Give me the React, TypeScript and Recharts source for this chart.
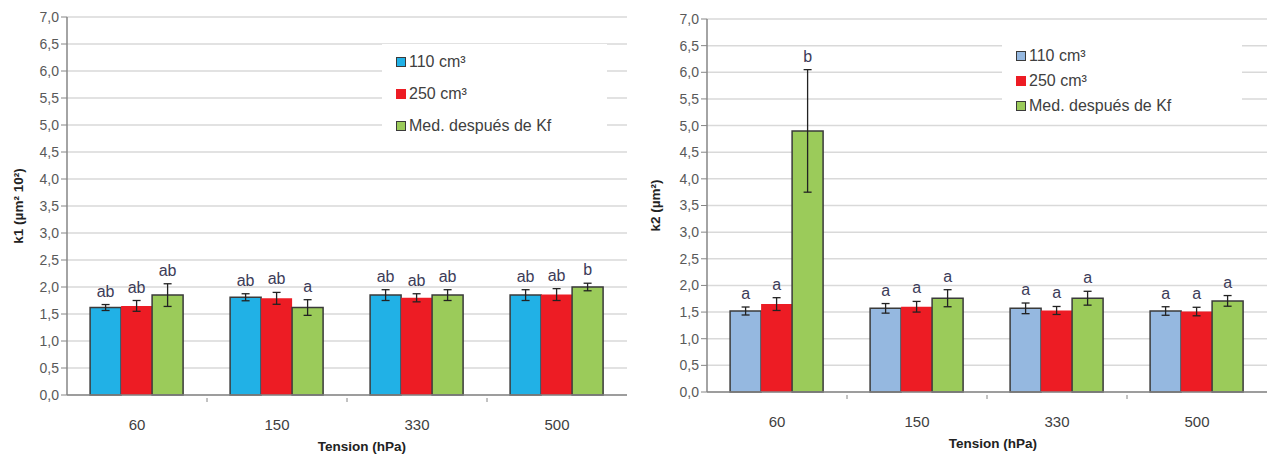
import React from 'react';
import {
  BarChart,
  Bar,
  XAxis,
  YAxis,
  CartesianGrid,
  ErrorBar,
  LabelList,
  Legend,
  Label,
} from 'recharts';

const tensions = ['60', '150', '330', '500'];
const seriesNames = ['110 cm³', '250 cm³', 'Med. después de Kf'];
const yTicks = [0, 0.5, 1, 1.5, 2, 2.5, 3, 3.5, 4, 4.5, 5, 5.5, 6, 6.5, 7];

// k1 (left panel)
const k1Vol110 = [1.62, 1.81, 1.85, 1.85];
const k1Vol110Err = [0.055, 0.065, 0.1, 0.1];
const k1Vol110Sig = ['ab', 'ab', 'ab', 'ab'];
const k1Vol250 = [1.65, 1.79, 1.8, 1.86];
const k1Vol250Err = [0.1, 0.11, 0.075, 0.11];
const k1Vol250Sig = ['ab', 'ab', 'ab', 'ab'];
const k1Kf = [1.85, 1.62, 1.85, 2.0];
const k1KfErr = [0.21, 0.145, 0.1, 0.07];
const k1KfSig = ['ab', 'a', 'ab', 'b'];

// k2 (right panel)
const k2Vol110 = [1.52, 1.57, 1.57, 1.52];
const k2Vol110Err = [0.075, 0.09, 0.1, 0.08];
const k2Vol110Sig = ['a', 'a', 'a', 'a'];
const k2Vol250 = [1.65, 1.6, 1.53, 1.51];
const k2Vol250Err = [0.12, 0.1, 0.075, 0.08];
const k2Vol250Sig = ['a', 'a', 'a', 'a'];
const k2Kf = [4.9, 1.76, 1.76, 1.71];
const k2KfErr = [1.15, 0.16, 0.13, 0.1];
const k2KfSig = ['b', 'a', 'a', 'a'];

const FONT = '"Liberation Sans", Arial, sans-serif';
const TEXT = '#404040';
const OUTLINE = '#3a3a3a';

const fmt = (v: number) => v.toFixed(1).replace('.', ',');

function buildRows(vals: number[][], errs: number[][], sigs: string[][]) {
  return tensions.map((t, i) => ({
    t,
    s0: vals[0][i],
    e0: errs[0][i],
    g0: sigs[0][i],
    s1: vals[1][i],
    e1: errs[1][i],
    g1: sigs[1][i],
    s2: vals[2][i],
    e2: errs[2][i],
    g2: sigs[2][i],
  }));
}

const k1Rows = buildRows(
  [k1Vol110, k1Vol250, k1Kf],
  [k1Vol110Err, k1Vol250Err, k1KfErr],
  [k1Vol110Sig, k1Vol250Sig, k1KfSig]
);
const k2Rows = buildRows(
  [k2Vol110, k2Vol250, k2Kf],
  [k2Vol110Err, k2Vol250Err, k2KfErr],
  [k2Vol110Sig, k2Vol250Sig, k2KfSig]
);

// letter above the error bar: pixel size of the error comes from bar height / value
function sigLabel(rows: any[], errKey: string, sigKey: string) {
  return (props: any) => {
    const { x, y, width, height, index } = props;
    const row = rows[index];
    const val = row[errKey.replace('e', 's')];
    const pxPer = height / val;
    const top = y - row[errKey] * pxPer;
    return (
      <text
        x={x + width / 2}
        y={top - 8}
        textAnchor="middle"
        fontFamily={FONT}
        fontSize={16}
        fill="#3c3c58"
      >
        {row[sigKey]}
      </text>
    );
  };
}

function XTick(props: any) {
  const { x, y, payload, index, band } = props;
  return (
    <g>
      {index > 0 && (
        <line x1={x - band / 2} x2={x - band / 2} y1={y - 5} y2={y - 1} stroke="#868686" />
      )}
      <text x={x} y={y + 27} textAnchor="middle" fontFamily={FONT} fontSize={15} fill={TEXT}>
        {payload.value}
      </text>
    </g>
  );
}

function LegendBox(props: { colors: string[]; gap: number; pad: number }) {
  const { colors, gap, pad } = props;
  return (
    <div style={{ background: '#fff', padding: `${pad}px 14px`, fontFamily: FONT, textAlign: 'left' }}>
      {seriesNames.map((n, i) => (
        <div
          key={n}
          style={{ display: 'flex', alignItems: 'center', height: gap, fontSize: 16, color: TEXT }}
        >
          <span
            style={{
              display: 'inline-block',
              width: 8,
              height: 8,
              marginRight: 3,
              background: colors[i],
              border: i === 1 ? `1px solid ${colors[i]}` : `1px solid ${OUTLINE}`,
            }}
          />
          {n}
        </div>
      ))}
    </div>
  );
}

interface PanelProps {
  rows: any[];
  colors: string[];
  yLabel: string;
  width: number;
  top: number;
  bottom: number;
  right: number;
  yLabelX: number;
  titleDx: number;
  legendPos: { left: number; top: number; width: number };
  legendGap: number;
  legendPad: number;
}

function Panel(p: PanelProps) {
  const plotW = p.width - 67 - p.right;
  const band = plotW / tensions.length;
  return (
    <BarChart
      width={p.width}
      height={456}
      data={p.rows}
      margin={{ top: p.top, right: p.right, bottom: 0, left: 27 }}
      barCategoryGap="16.5%"
      barGap={0}
    >
      <CartesianGrid vertical={false} stroke="#d9d9d9" strokeWidth={1.5} />
      <XAxis
        dataKey="t"
        height={456 - p.bottom}
        axisLine={{ stroke: '#868686', strokeWidth: 1.5 }}
        tickLine={false}
        interval={0}
        tick={<XTick band={band} />}
      >
        <Label
          value="Tension (hPa)"
          position="insideBottom"
          offset={456 - p.bottom - 56}
          dx={p.titleDx}
          style={{ fontFamily: FONT, fontSize: 13.5, fontWeight: 'bold', fill: '#222' }}
        />
      </XAxis>
      <YAxis
        width={40}
        domain={[0, 7]}
        ticks={yTicks}
        interval={0}
        tickFormatter={fmt}
        axisLine={{ stroke: '#868686', strokeWidth: 1.5 }}
        tickLine={{ stroke: '#868686' }}
        tickSize={6}
        tick={{ fontFamily: FONT, fontSize: 14, fill: '#595959' }}
      >
        <Label
          value={p.yLabel}
          angle={-90}
          position="insideLeft"
          offset={p.yLabelX}
          style={{ fontFamily: FONT, fontSize: 13.5, fontWeight: 'bold', fill: '#222', textAnchor: 'middle' }}
        />
      </YAxis>
      <Legend
        layout="horizontal"
        verticalAlign="middle"
        align="center"
        wrapperStyle={{ left: p.legendPos.left, top: p.legendPos.top, width: p.legendPos.width }}
        content={() => <LegendBox colors={p.colors} gap={p.legendGap} pad={p.legendPad} />}
      />
      {[0, 1, 2].map((k) => (
        <Bar
          key={k}
          dataKey={`s${k}`}
          name={seriesNames[k]}
          fill={p.colors[k]}
          stroke={k === 1 ? p.colors[k] : OUTLINE}
          strokeWidth={k === 1 ? 0 : 1.5}
          isAnimationActive={false}
        >
          <ErrorBar dataKey={`e${k}`} direction="y" width={4} stroke="#222" strokeWidth={1.3} />
          <LabelList dataKey={`g${k}`} content={sigLabel(p.rows, `e${k}`, `g${k}`)} />
        </Bar>
      ))}
    </BarChart>
  );
}

export default function App() {
  return (
    <div style={{ position: 'absolute', left: 0, top: 0, width: 1269, height: 456, background: '#fff' }}>
      <div style={{ position: 'absolute', left: 0, top: 0 }}>
        <Panel
          rows={k1Rows}
          colors={['#21b1e6', '#ed1c24', '#9bcb5a']}
          yLabel="k1 (µm² 10²)"
          width={640}
          top={17}
          bottom={395}
          right={13}
          yLabelX={-9}
          titleDx={15}
          legendPos={{ left: 382, top: 44, width: 225 }}
          legendGap={32}
          legendPad={2}
        />
      </div>
      <div style={{ position: 'absolute', left: 640, top: 0 }}>
        <Panel
          rows={k2Rows}
          colors={['#95b8e0', '#ed1c24', '#9bcb5a']}
          yLabel="k2 (µm²)"
          width={629}
          top={19}
          bottom={392}
          right={2}
          yLabelX={-12}
          titleDx={6}
          legendPos={{ left: 362, top: 37, width: 240 }}
          legendGap={25}
          legendPad={6}
        />
      </div>
    </div>
  );
}
